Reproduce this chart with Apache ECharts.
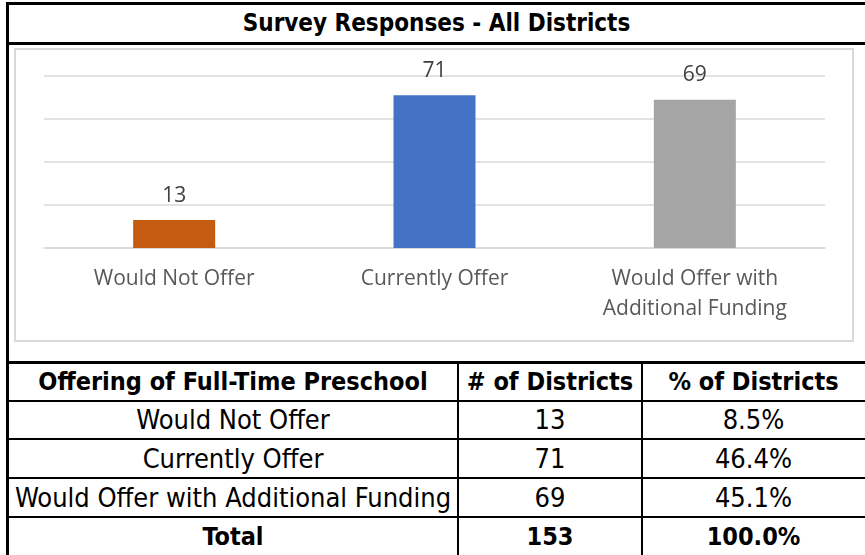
<!DOCTYPE html>
<html>
<head>
<meta charset="utf-8">
<script src="https://cdn.jsdelivr.net/npm/echarts@6/dist/echarts.min.js"></script>
<style>
  html, body { margin: 0; padding: 0; background: #fff; }
  #page { position: relative; width: 865px; height: 555px; overflow: hidden; background: #fff; }
  .hl, .vl { position: absolute; background: #000; }
  #title {
    position: absolute; left: 8px; right: 0; top: 5px; height: 37px;
    line-height: 37px; text-align: center;
    font-family: "DejaVu Sans Condensed", sans-serif;
    font-weight: bold; font-size: 24px; color: #000;
  }
  #chartBox {
    position: absolute; left: 14px; top: 48px; width: 840px; height: 294px;
    border: 2px solid #d9d9d9; box-sizing: border-box;
  }
  #chart { width: 836px; height: 290px; }
  .cell {
    position: absolute; text-align: center;
    font-family: "DejaVu Sans Condensed", sans-serif;
    font-size: 27px; color: #000; white-space: nowrap;
  }
  .bold { font-weight: bold; font-size: 25px; }
</style>
</head>
<body>
<div id="page">
  <div class="hl" style="left:6px;top:2px;width:859px;height:3px"></div>
  <div class="vl" style="left:6px;top:2px;width:3px;height:553px"></div>
  <div id="title"></div>
  <div class="hl" style="left:6px;top:42px;width:859px;height:3px"></div>
  <div id="chartBox"><div id="chart"></div></div>
  <div id="table"></div>
</div>
<script>
// chart data
const categories = ['Would Not Offer', 'Currently Offer', 'Would Offer with\nAdditional Funding']
const values = [13, 71, 69]
const barColors = ['#C55A11', '#4472C4', '#A5A5A5']
const yTicks = [0, 20, 40, 60, 80]

// table data
const tableTitle = 'Survey Responses - All Districts'
const headers = ['Offering of Full-Time Preschool', '# of Districts', '% of Districts']
const rowNames = ['Would Not Offer', 'Currently Offer', 'Would Offer with Additional Funding']
const rowCounts = [13, 71, 69]
const rowPcts = ['8.5%', '46.4%', '45.1%']
const totalRow = ['Total', '153', '100.0%']

document.getElementById('title').textContent = tableTitle

// build table
const table = document.getElementById('table')
const colX = [8, 458, 642, 865]
const rowY = [363, 401, 439, 478, 517, 556]

function addCell(text, c, r, bold) {
  const d = document.createElement('div')
  d.className = 'cell' + (bold ? ' bold' : '')
  d.style.left = colX[c] + 'px'
  d.style.width = (colX[c + 1] - colX[c]) + 'px'
  d.style.top = rowY[r] + 'px'
  d.style.height = (rowY[r + 1] - rowY[r]) + 'px'
  d.style.lineHeight = (rowY[r + 1] - rowY[r]) + 'px'
  d.textContent = text
  table.appendChild(d)
}
function addLine(cls, left, top, w, h) {
  const d = document.createElement('div')
  d.className = cls
  d.style.left = left + 'px'
  d.style.top = top + 'px'
  d.style.width = w + 'px'
  d.style.height = h + 'px'
  table.appendChild(d)
}

headers.forEach((h, i) => addCell(h, i, 0, true))
rowNames.forEach((name, i) => {
  addCell(name, 0, i + 1, false)
  addCell(String(rowCounts[i]), 1, i + 1, false)
  addCell(rowPcts[i], 2, i + 1, false)
})
totalRow.forEach((t, i) => addCell(t, i, 4, true))

addLine('hl', 6, 361, 859, 3)
rowY.slice(1, 5).forEach(y => addLine('hl', 6, y - 1, 859, 2))
addLine('vl', 457, 362, 2, 193)
addLine('vl', 641, 362, 2, 193)

// bar chart
const chart = echarts.init(document.getElementById('chart'))
chart.setOption({
  animation: false,
  grid: { left: 28, right: 27, top: 26, bottom: 92, containLabel: false },
  xAxis: {
    type: 'category',
    data: categories,
    axisLine: { lineStyle: { color: '#d9d9d9', width: 1.5 } },
    axisTick: { show: false },
    axisLabel: {
      color: '#595959',
      fontSize: 21,
      fontFamily: 'Open Sans',
      lineHeight: 30,
      margin: 16,
      interval: 0,
    },
  },
  yAxis: {
    type: 'value',
    min: yTicks[0],
    max: yTicks[yTicks.length - 1],
    interval: yTicks[1] - yTicks[0],
    axisLine: { show: false },
    axisTick: { show: false },
    axisLabel: { show: false },
    splitLine: { lineStyle: { color: '#d9d9d9', width: 1.5 } },
  },
  series: [
    {
      type: 'bar',
      barWidth: 82,
      data: values.map((v, i) => ({ value: v, itemStyle: { color: barColors[i] } })),
      label: {
        show: true,
        position: 'top',
        distance: 14,
        color: '#404040',
        fontSize: 21,
        fontFamily: 'Open Sans',
      },
    },
  ],
})
</script>
</body>
</html>
